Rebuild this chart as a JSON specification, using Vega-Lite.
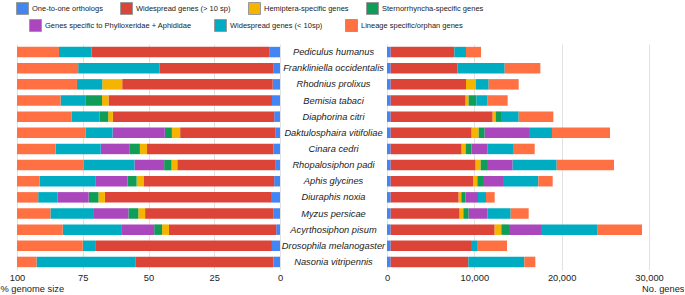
{
 "$schema": "https://vega.github.io/schema/vega-lite/v6.json",
 "padding": {"left": 0, "top": 2, "right": 0, "bottom": 0},
 "data": {"values": [
  {"s":"Pediculus humanus","c":"One-to-one orthologs","n":420},
  {"s":"Pediculus humanus","c":"Widespread genes (> 10 sp)","n":7290},
  {"s":"Pediculus humanus","c":"Widespread genes (< 10sp)","n":1336},
  {"s":"Pediculus humanus","c":"Lineage specific/orphan genes","n":1718},
  {"s":"Frankliniella occidentalis","c":"One-to-one orthologs","n":420},
  {"s":"Frankliniella occidentalis","c":"Widespread genes (> 10 sp)","n":7634},
  {"s":"Frankliniella occidentalis","c":"Widespread genes (< 10sp)","n":5420},
  {"s":"Frankliniella occidentalis","c":"Lineage specific/orphan genes","n":4084},
  {"s":"Rhodnius prolixus","c":"One-to-one orthologs","n":420},
  {"s":"Rhodnius prolixus","c":"Widespread genes (> 10 sp)","n":8626},
  {"s":"Rhodnius prolixus","c":"Hemiptera-specific genes","n":1145},
  {"s":"Rhodnius prolixus","c":"Widespread genes (< 10sp)","n":1451},
  {"s":"Rhodnius prolixus","c":"Lineage specific/orphan genes","n":3435},
  {"s":"Bemisia tabaci","c":"One-to-one orthologs","n":420},
  {"s":"Bemisia tabaci","c":"Widespread genes (> 10 sp)","n":8588},
  {"s":"Bemisia tabaci","c":"Hemiptera-specific genes","n":340},
  {"s":"Bemisia tabaci","c":"Sternorrhyncha-specific genes","n":880},
  {"s":"Bemisia tabaci","c":"Widespread genes (< 10sp)","n":1298},
  {"s":"Bemisia tabaci","c":"Lineage specific/orphan genes","n":2290},
  {"s":"Diaphorina citri","c":"One-to-one orthologs","n":420},
  {"s":"Diaphorina citri","c":"Widespread genes (> 10 sp)","n":11680},
  {"s":"Diaphorina citri","c":"Hemiptera-specific genes","n":343},
  {"s":"Diaphorina citri","c":"Sternorrhyncha-specific genes","n":611},
  {"s":"Diaphorina citri","c":"Widespread genes (< 10sp)","n":2023},
  {"s":"Diaphorina citri","c":"Lineage specific/orphan genes","n":3970},
  {"s":"Daktulosphaira vitifoliae","c":"One-to-one orthologs","n":420},
  {"s":"Daktulosphaira vitifoliae","c":"Widespread genes (> 10 sp)","n":9275},
  {"s":"Daktulosphaira vitifoliae","c":"Hemiptera-specific genes","n":802},
  {"s":"Daktulosphaira vitifoliae","c":"Sternorrhyncha-specific genes","n":687},
  {"s":"Daktulosphaira vitifoliae","c":"Genes specific to Phylloxeridae + Aphididae","n":5077},
  {"s":"Daktulosphaira vitifoliae","c":"Widespread genes (< 10sp)","n":2633},
  {"s":"Daktulosphaira vitifoliae","c":"Lineage specific/orphan genes","n":6642},
  {"s":"Cinara cedri","c":"One-to-one orthologs","n":420},
  {"s":"Cinara cedri","c":"Widespread genes (> 10 sp)","n":8130},
  {"s":"Cinara cedri","c":"Hemiptera-specific genes","n":458},
  {"s":"Cinara cedri","c":"Sternorrhyncha-specific genes","n":649},
  {"s":"Cinara cedri","c":"Genes specific to Phylloxeridae + Aphididae","n":1870},
  {"s":"Cinara cedri","c":"Widespread genes (< 10sp)","n":2901},
  {"s":"Cinara cedri","c":"Lineage specific/orphan genes","n":2481},
  {"s":"Rhopalosiphon padi","c":"One-to-one orthologs","n":420},
  {"s":"Rhopalosiphon padi","c":"Widespread genes (> 10 sp)","n":9733},
  {"s":"Rhopalosiphon padi","c":"Hemiptera-specific genes","n":573},
  {"s":"Rhopalosiphon padi","c":"Sternorrhyncha-specific genes","n":725},
  {"s":"Rhopalosiphon padi","c":"Genes specific to Phylloxeridae + Aphididae","n":2939},
  {"s":"Rhopalosiphon padi","c":"Widespread genes (< 10sp)","n":5038},
  {"s":"Rhopalosiphon padi","c":"Lineage specific/orphan genes","n":6566},
  {"s":"Aphis glycines","c":"One-to-one orthologs","n":420},
  {"s":"Aphis glycines","c":"Widespread genes (> 10 sp)","n":9428},
  {"s":"Aphis glycines","c":"Hemiptera-specific genes","n":496},
  {"s":"Aphis glycines","c":"Sternorrhyncha-specific genes","n":649},
  {"s":"Aphis glycines","c":"Genes specific to Phylloxeridae + Aphididae","n":2290},
  {"s":"Aphis glycines","c":"Widespread genes (< 10sp)","n":4046},
  {"s":"Aphis glycines","c":"Lineage specific/orphan genes","n":1641},
  {"s":"Diuraphis noxia","c":"One-to-one orthologs","n":420},
  {"s":"Diuraphis noxia","c":"Widespread genes (> 10 sp)","n":7787},
  {"s":"Diuraphis noxia","c":"Hemiptera-specific genes","n":305},
  {"s":"Diuraphis noxia","c":"Sternorrhyncha-specific genes","n":458},
  {"s":"Diuraphis noxia","c":"Genes specific to Phylloxeridae + Aphididae","n":1450},
  {"s":"Diuraphis noxia","c":"Widespread genes (< 10sp)","n":916},
  {"s":"Diuraphis noxia","c":"Lineage specific/orphan genes","n":993},
  {"s":"Myzus persicae","c":"One-to-one orthologs","n":420},
  {"s":"Myzus persicae","c":"Widespread genes (> 10 sp)","n":7901},
  {"s":"Myzus persicae","c":"Hemiptera-specific genes","n":420},
  {"s":"Myzus persicae","c":"Sternorrhyncha-specific genes","n":611},
  {"s":"Myzus persicae","c":"Genes specific to Phylloxeridae + Aphididae","n":2175},
  {"s":"Myzus persicae","c":"Widespread genes (< 10sp)","n":2634},
  {"s":"Myzus persicae","c":"Lineage specific/orphan genes","n":2061},
  {"s":"Acyrthosiphon pisum","c":"One-to-one orthologs","n":420},
  {"s":"Acyrthosiphon pisum","c":"Widespread genes (> 10 sp)","n":11909},
  {"s":"Acyrthosiphon pisum","c":"Hemiptera-specific genes","n":763},
  {"s":"Acyrthosiphon pisum","c":"Sternorrhyncha-specific genes","n":878},
  {"s":"Acyrthosiphon pisum","c":"Genes specific to Phylloxeridae + Aphididae","n":3664},
  {"s":"Acyrthosiphon pisum","c":"Widespread genes (< 10sp)","n":6490},
  {"s":"Acyrthosiphon pisum","c":"Lineage specific/orphan genes","n":5076},
  {"s":"Drosophila melanogaster","c":"One-to-one orthologs","n":420},
  {"s":"Drosophila melanogaster","c":"Widespread genes (> 10 sp)","n":9199},
  {"s":"Drosophila melanogaster","c":"Widespread genes (< 10sp)","n":687},
  {"s":"Drosophila melanogaster","c":"Lineage specific/orphan genes","n":3435},
  {"s":"Nasonia vitripennis","c":"One-to-one orthologs","n":420},
  {"s":"Nasonia vitripennis","c":"Widespread genes (> 10 sp)","n":8893},
  {"s":"Nasonia vitripennis","c":"Widespread genes (< 10sp)","n":6413},
  {"s":"Nasonia vitripennis","c":"Lineage specific/orphan genes","n":1260}
 ]},
 "transform": [{"calculate": "indexof(['One-to-one orthologs','Widespread genes (> 10 sp)','Hemiptera-specific genes','Sternorrhyncha-specific genes','Genes specific to Phylloxeridae + Aphididae','Widespread genes (< 10sp)','Lineage specific/orphan genes'], datum.c)", "as": "o"}],
 "spacing": 107,
 "bounds": "flush",
 "resolve": {"scale": {"color": "independent"}, "legend": {"color": "independent"}},
 "hconcat": [
  {
   "width": 263, "height": 226,
   "mark": {"type": "bar"},
   "encoding": {
    "y": {"field": "s", "type": "nominal", "axis": null,
      "sort": ["Pediculus humanus","Frankliniella occidentalis","Rhodnius prolixus","Bemisia tabaci","Diaphorina citri","Daktulosphaira vitifoliae","Cinara cedri","Rhopalosiphon padi","Aphis glycines","Diuraphis noxia","Myzus persicae","Acyrthosiphon pisum","Drosophila melanogaster","Nasonia vitripennis"],
      "scale": {"paddingInner": 0.35, "paddingOuter": 0.175}},
    "x": {"field": "n", "type": "quantitative", "stack": "normalize",
      "scale": {"reverse": true, "domain": [0, 1]},
      "axis": {"values": [0, 0.25, 0.5, 0.75, 1], "labelExpr": "format(datum.value*100, 'd')", "title": "% genome size", "titleX": -17, "titleY": 14, "titleAlign": "left", "titleBaseline": "top", "labelFlush": false, "labelPadding": 3}},
    "color": {"field": "c", "type": "nominal",
      "scale": {"domain": ["One-to-one orthologs","Widespread genes (> 10 sp)","Hemiptera-specific genes","Sternorrhyncha-specific genes","Genes specific to Phylloxeridae + Aphididae","Widespread genes (< 10sp)","Lineage specific/orphan genes"],
                "range": ["#4285F4","#DB4437","#F4B400","#0F9D58","#AB47BC","#00ACC1","#FF7043"]},
      "legend": {"orient": "none", "legendX": -1, "legendY": -42, "direction": "horizontal", "columns": 4, "gridAlign": "none", "title": null, "columnPadding": 15,
        "values": ["One-to-one orthologs","Widespread genes (> 10 sp)","Hemiptera-specific genes","Sternorrhyncha-specific genes"]}},
    "order": {"field": "o", "type": "quantitative"}
   }
  },
  {
   "width": 262, "height": 226,
   "mark": {"type": "bar"},
   "encoding": {
    "y": {"field": "s", "type": "nominal",
      "sort": ["Pediculus humanus","Frankliniella occidentalis","Rhodnius prolixus","Bemisia tabaci","Diaphorina citri","Daktulosphaira vitifoliae","Cinara cedri","Rhopalosiphon padi","Aphis glycines","Diuraphis noxia","Myzus persicae","Acyrthosiphon pisum","Drosophila melanogaster","Nasonia vitripennis"],
      "scale": {"paddingInner": 0.35, "paddingOuter": 0.175},
      "axis": {"title": null, "labelAlign": "center", "labelPadding": 54, "labelFontStyle": "italic", "labelLimit": 200}},
    "x": {"field": "n", "type": "quantitative", "scale": {"domain": [0, 30000]},
      "axis": {"values": [0, 10000, 20000, 30000], "labelExpr": "datum.value == 0 ? '0' : (datum.value / 1000) + ',000'", "title": "No. genes", "titleX": 297, "titleY": 14, "titleAlign": "right", "titleBaseline": "top", "labelFlush": false, "labelPadding": 3}},
    "color": {"field": "c", "type": "nominal",
      "scale": {"domain": ["One-to-one orthologs","Widespread genes (> 10 sp)","Hemiptera-specific genes","Sternorrhyncha-specific genes","Genes specific to Phylloxeridae + Aphididae","Widespread genes (< 10sp)","Lineage specific/orphan genes"],
                "range": ["#4285F4","#DB4437","#F4B400","#0F9D58","#AB47BC","#00ACC1","#FF7043"]},
      "legend": {"orient": "none", "legendX": -358, "legendY": -25, "direction": "horizontal", "columns": 3, "gridAlign": "none", "title": null, "columnPadding": 20,
        "values": ["Genes specific to Phylloxeridae + Aphididae","Widespread genes (< 10sp)","Lineage specific/orphan genes"]}},
    "order": {"field": "o", "type": "quantitative"}
   }
  }
 ],
 "config": {
  "view": {"stroke": null},
  "font": "Liberation Sans",
  "axis": {"gridColor": "#e2e2e2", "labelColor": "#222", "titleColor": "#222", "labelFontSize": 9.3, "titleFontSize": 9.3, "titleFontWeight": "normal", "domain": false, "ticks": false},
  "axisY": {"grid": false},
  "legend": {"symbolType": "square", "symbolSize": 144, "symbolStrokeColor": "#999", "symbolStrokeWidth": 1, "symbolOpacity": 1, "labelFontSize": 7.5, "labelColor": "#222", "labelOffset": 3, "rowPadding": 4, "labelLimit": 300}
 }
}
